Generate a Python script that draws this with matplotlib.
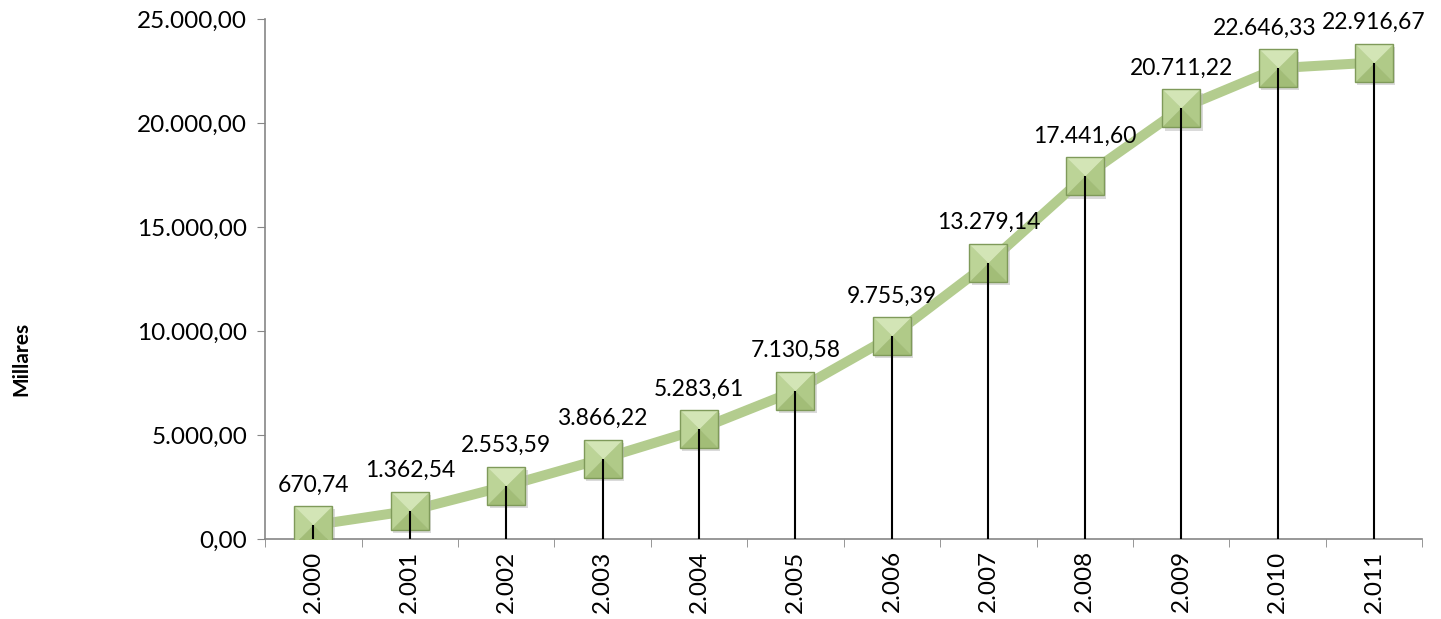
import numpy as np
import matplotlib.pyplot as plt
from matplotlib.path import Path
from matplotlib.ticker import FuncFormatter

years = ['2.000', '2.001', '2.002', '2.003', '2.004', '2.005',
         '2.006', '2.007', '2.008', '2.009', '2.010', '2.011']
values = [670.74, 1362.54, 2553.59, 3866.22, 5283.61, 7130.58,
          9755.39, 13279.14, 17441.60, 20711.22, 22646.33, 22916.67]
y_ticks = [0, 5000, 10000, 15000, 20000, 25000]

def es_fmt(v, pos=None):
	s = '{:,.2f}'.format(v)
	return s.replace(',', '#').replace('.', ',').replace('#', '.')

# pyramid (bevel) faces for the square markers
faces = {
	'top':    ([(-1, 1), (1, 1), (0, 0), (-1, 1)], '#d3e5b6'),
	'left':   ([(-1, 1), (-1, -1), (0, 0), (-1, 1)], '#bcd497'),
	'right':  ([(1, 1), (1, -1), (0, 0), (1, 1)], '#b0ca88'),
	'bottom': ([(-1, -1), (1, -1), (0, 0), (-1, -1)], '#a2bd77'),
}

plt.rcParams['font.family'] = ['Lato', 'DejaVu Sans']

fig = plt.figure(figsize=(14.41, 6.19), dpi=100)
ax = fig.add_axes([0.184, 0.129, 0.803, 0.840])

x = np.arange(len(values))
ax.plot(x, values, color='#b3cc8e', lw=7.2, solid_capstyle='round', zorder=2)
# shadow under the markers
ax.plot(x + 0.025, np.array(values) - 150, 's', ms=27, color='#bdbdbd', alpha=0.55,
	mew=0, zorder=2.5)
for name, (verts, col) in faces.items():
	ax.plot(x, values, ls='none', marker=Path(verts, closed=True), ms=27,
		mfc=col, mec=col, mew=0.3, zorder=3)
ax.plot(x, values, 's', ms=27, mfc='none', mec='#7f9a5a', mew=1.0, zorder=3.2)
ax.vlines(x, 0, values, color='black', lw=1.5, zorder=4)

for i, (xi, v) in enumerate(zip(x, values)):
	dx = -9 if i == len(values) - 2 else 0  # keep the last two labels apart
	ax.annotate(es_fmt(v), (xi, v), xytext=(dx, 29), textcoords='offset points',
		ha='center', va='center', fontsize=16.5, color='black')

ax.set_xlim(-0.5, len(values) - 0.5)
ax.set_ylim(0, 25000)
ax.set_yticks(y_ticks)
ax.yaxis.set_major_formatter(FuncFormatter(es_fmt))
ax.set_xticks(x)
ax.set_xticklabels(years, rotation=90, fontsize=17.5)
ax.set_xticks(np.arange(-0.5, len(values)), minor=True)
ax.tick_params(axis='x', which='major', length=0, pad=8)
ax.tick_params(axis='x', which='minor', length=6, color='#868686')
ax.tick_params(axis='y', length=6, color='#868686', labelsize=17.5, pad=7)

for s in ['top', 'right']:
	ax.spines[s].set_visible(False)
for s in ['left', 'bottom']:
	ax.spines[s].set_color('#868686')
	ax.spines[s].set_linewidth(1.2)

fig.text(0.015, 0.42, 'Millares', rotation=90, fontsize=15, fontweight='bold',
	ha='center', va='center')

fig.savefig('out.png', dpi=100)
